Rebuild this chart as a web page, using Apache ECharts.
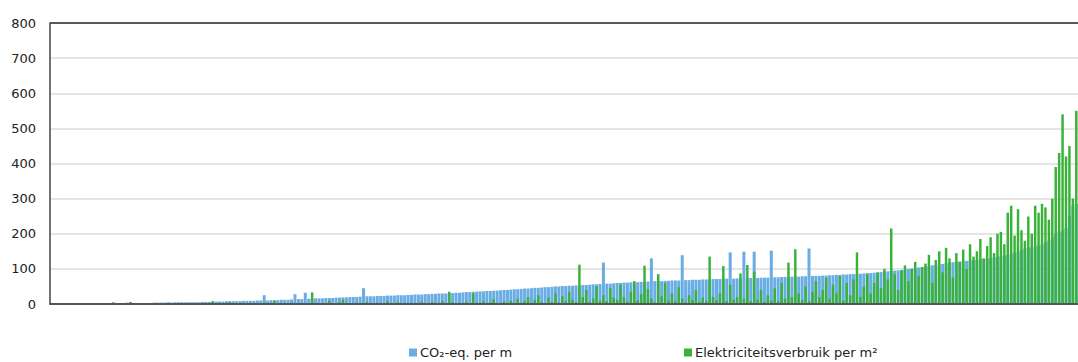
<!DOCTYPE html>
<html>
<head>
<meta charset="utf-8">
<script src="https://cdn.jsdelivr.net/npm/echarts@6/dist/echarts.min.js"></script>
<style>html,body{margin:0;padding:0;background:#fff}#c{width:1078px;height:362px}</style>
</head>
<body>
<div id="c"></div>
<script>
const seriesNames = ['CO\u2082-eq. per m', 'Elektriciteitsverbruik per m\u00b2'];
const yTicks = [0, 100, 200, 300, 400, 500, 600, 700, 800];

const co2 = [
3,3,3,3,3,3,3,3,3,3,3,3,3,3,3,
3,3,3,3,3,3,3,4,3,3,3,3,3,3,3,
4,4,4,4,5,4,5,5,5,5,5,5,5,5,6,
6,6,7,7,7,7,8,8,8,8,8,9,9,9,9,
10,10,25,10,11,11,11,12,12,12,13,28,14,14,32,
15,15,16,16,16,17,17,17,18,18,19,19,20,20,20,
21,45,22,22,22,23,23,23,24,24,24,25,25,25,26,
26,27,27,27,28,28,29,29,30,30,30,31,31,32,32,
33,34,34,35,35,36,36,37,37,38,38,39,40,40,41,
42,42,43,44,44,45,46,46,47,48,48,49,50,50,51,
51,52,52,53,53,54,54,55,56,56,57,118,58,58,59,
60,60,61,61,62,62,62,63,63,64,130,65,65,65,66,
66,67,67,67,139,68,68,69,69,69,70,70,70,71,71,
71,72,72,147,72,73,73,149,73,74,149,74,75,75,75,
152,76,76,77,77,77,78,78,78,79,79,158,80,80,80,
81,81,82,82,83,83,84,84,85,85,86,86,87,88,88,
89,90,91,92,93,94,95,96,97,98,100,101,102,104,105,
107,108,110,111,113,114,116,117,119,120,121,122,123,124,125,
126,127,128,129,130,132,134,136,138,140,143,146,150,154,158,
160,162,164,166,170,175,180,190,200,205,210,216,250,280,285
];

const elek = [
1,2,1,1,2,1,1,2,1,1,1,2,1,1,2,
1,1,2,5,1,1,2,1,6,1,2,1,1,2,1,
2,1,1,3,1,2,1,1,2,1,1,2,1,3,2,
1,2,8,1,3,1,2,6,1,2,4,1,2,3,1,
2,1,5,1,2,9,1,3,2,1,4,2,1,3,2,
1,33,2,1,3,2,10,1,2,5,12,3,1,2,4,
2,3,6,1,2,4,1,3,8,2,1,5,2,1,3,
4,1,2,7,3,1,6,2,1,9,3,35,5,1,4,
3,6,2,30,1,4,8,2,5,14,3,1,7,2,10,
4,15,2,8,20,3,12,25,5,2,18,6,30,4,22,
8,35,12,5,112,20,40,6,15,50,10,25,8,45,18,
12,55,20,6,35,65,10,28,109,42,15,5,85,22,60,
10,30,8,48,15,5,25,12,40,6,18,8,135,20,10,
30,108,8,55,12,20,87,15,111,8,92,12,40,6,25,
10,45,8,60,15,118,20,156,30,12,50,8,35,65,20,
40,75,15,55,30,80,10,60,25,70,147,20,50,85,30,
60,90,45,100,70,215,85,40,95,110,65,100,120,80,105,
115,140,60,125,150,90,160,130,75,145,120,155,100,170,135,
150,185,130,165,190,145,200,205,170,260,280,195,270,210,180,
249,200,280,260,285,275,240,300,390,430,540,420,450,300,550
];

const categories = co2.map((_, i) => String(i + 1));

const chart = echarts.init(document.getElementById('c'), null, {renderer: 'svg'});
const font = 'DejaVu Sans, Verdana, sans-serif';
const lineColors = yTicks.map((v, i) => i === yTicks.length - 1 ? '#222222' : '#dddddd');
chart.setOption({
  animation: false,
  backgroundColor: '#ffffff',
  grid: {left: 50, right: 0, top: 23, bottom: 58},
  legend: [
    {data: [seriesNames[0]], left: 407, top: 344, itemWidth: 8, itemHeight: 8, itemGap: 3, padding: 2,
     textStyle: {fontFamily: font, fontSize: 13, color: '#222', padding: [0, 0, 0, -2]}, icon: 'rect'},
    {data: [seriesNames[1]], left: 682, top: 344, itemWidth: 8, itemHeight: 8, itemGap: 3, padding: 2,
     textStyle: {fontFamily: font, fontSize: 13, color: '#222', padding: [0, 0, 0, -2]}, icon: 'rect'}
  ],
  xAxis: [
    {type: 'category', data: categories, position: 'bottom', z: 5,
     axisLine: {show: true, onZero: false, lineStyle: {color: '#555555', width: 2}},
     axisTick: {show: false}, axisLabel: {show: false}, splitLine: {show: false}},
    {type: 'category', data: categories, position: 'bottom', show: false}
  ],
  yAxis: {
    type: 'value', min: yTicks[0], max: yTicks[yTicks.length - 1], interval: 100,
    axisLine: {show: true, lineStyle: {color: '#444444', width: 1.5}},
    axisTick: {show: false},
    axisLabel: {fontFamily: font, fontSize: 13, color: '#222', margin: 14},
    splitLine: {show: true, showMinLine: true, showMaxLine: true, lineStyle: {color: lineColors, width: 1.5}}
  },
  series: [
    {name: seriesNames[0], type: 'bar', xAxisIndex: 0, data: co2, barWidth: '88%', z: 2,
     itemStyle: {color: '#6aade4'}},
    {name: seriesNames[1], type: 'bar', xAxisIndex: 1, data: elek, barWidth: '72%', z: 3,
     itemStyle: {color: '#39b239'}}
  ]
});
</script>
</body>
</html>
